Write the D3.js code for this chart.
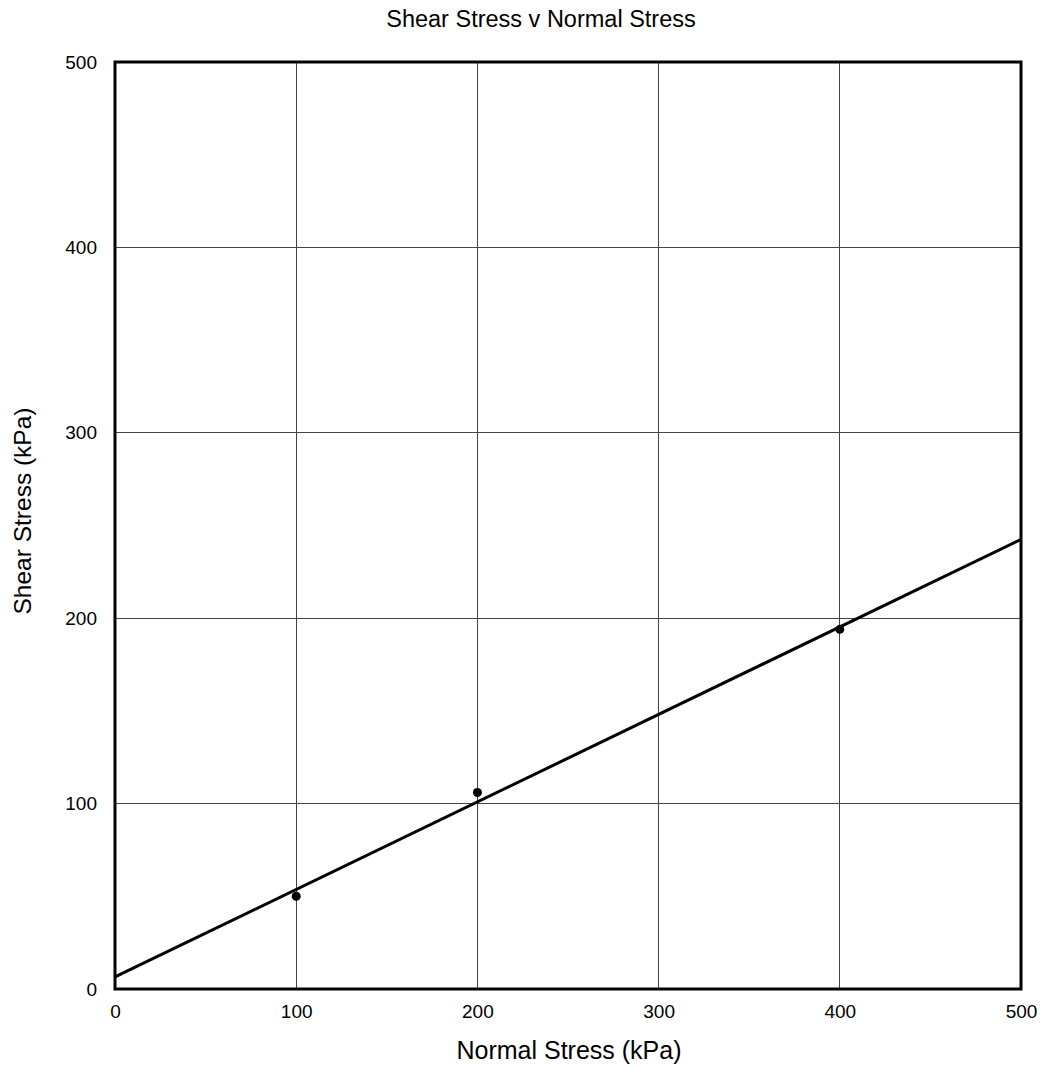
<!DOCTYPE html>
<html><head><meta charset="utf-8">
<script src="https://cdn.jsdelivr.net/npm/d3@7"></script>
<style>body{margin:0;background:#fff;} text{font-family:"Liberation Sans",Arial,sans-serif;fill:#000;}</style>
</head><body>
<svg id="c" width="1045" height="1068"></svg>
<script>
const pointsX = [100, 200, 400];
const pointsY = [50, 106, 194];
const fitX = [0, 500];
const fitY = [6.5, 242.5];
const tickValues = [0, 100, 200, 300, 400, 500];
const title = "Shear Stress v Normal Stress";
const xTitle = "Normal Stress (kPa)";
const yTitle = "Shear Stress (kPa)";

const svg = d3.select("#c");
const L = 115, R = 1021, T = 62, B = 989;
const x = d3.scaleLinear().domain([0, 500]).range([L, R]);
const y = d3.scaleLinear().domain([0, 500]).range([B, T]);

// grid
const g = svg.append("g");
g.selectAll(".vg").data(tickValues).enter().append("line")
  .attr("x1", d => x(d)).attr("x2", d => x(d)).attr("y1", T).attr("y2", B)
  .attr("stroke", "#444").attr("stroke-width", 1).attr("shape-rendering", "crispEdges");
g.selectAll(".hg").data(tickValues).enter().append("line")
  .attr("y1", d => y(d)).attr("y2", d => y(d)).attr("x1", L).attr("x2", R)
  .attr("stroke", "#444").attr("stroke-width", 1).attr("shape-rendering", "crispEdges");

// fit line
const line = d3.line().x(d => x(d[0])).y(d => y(d[1]));
svg.append("path").datum(fitX.map((v, i) => [v, fitY[i]]))
  .attr("d", line).attr("stroke", "#000").attr("stroke-width", 3).attr("fill", "none");

// points
svg.selectAll(".pt").data(pointsX.map((v, i) => [v, pointsY[i]])).enter().append("circle")
  .attr("cx", d => x(d[0])).attr("cy", d => y(d[1])).attr("r", 4.5).attr("fill", "#000");

// frame
svg.append("rect").attr("x", L).attr("y", T).attr("width", R - L).attr("height", B - T)
  .attr("fill", "none").attr("stroke", "#000").attr("stroke-width", 3);

// axes labels via d3 axes
const xAxis = d3.axisBottom(x).tickValues(tickValues).tickSize(0).tickPadding(16);
const xa = svg.append("g").attr("transform", `translate(0,${B})`).call(xAxis);
xa.select(".domain").remove();
xa.selectAll("text").style("font-size", "19px").style("font-family", "Liberation Sans, Arial, sans-serif").attr("fill", "#000");

const yAxis = d3.axisLeft(y).tickValues(tickValues).tickSize(0).tickPadding(18);
const ya = svg.append("g").attr("transform", `translate(${L},0)`).call(yAxis);
ya.select(".domain").remove();
ya.selectAll("text").style("font-size", "19px").style("font-family", "Liberation Sans, Arial, sans-serif").attr("fill", "#000");

svg.append("text").attr("x", 541).attr("y", 27).attr("text-anchor", "middle")
  .style("font-size", "23.5px").text(title);
svg.append("text").attr("x", 569).attr("y", 1059).attr("text-anchor", "middle")
  .style("font-size", "25px").text(xTitle);
svg.append("text").attr("transform", "translate(31,511) rotate(-90)").attr("text-anchor", "middle")
  .style("font-size", "24.5px").text(yTitle);
</script>
</body></html>
